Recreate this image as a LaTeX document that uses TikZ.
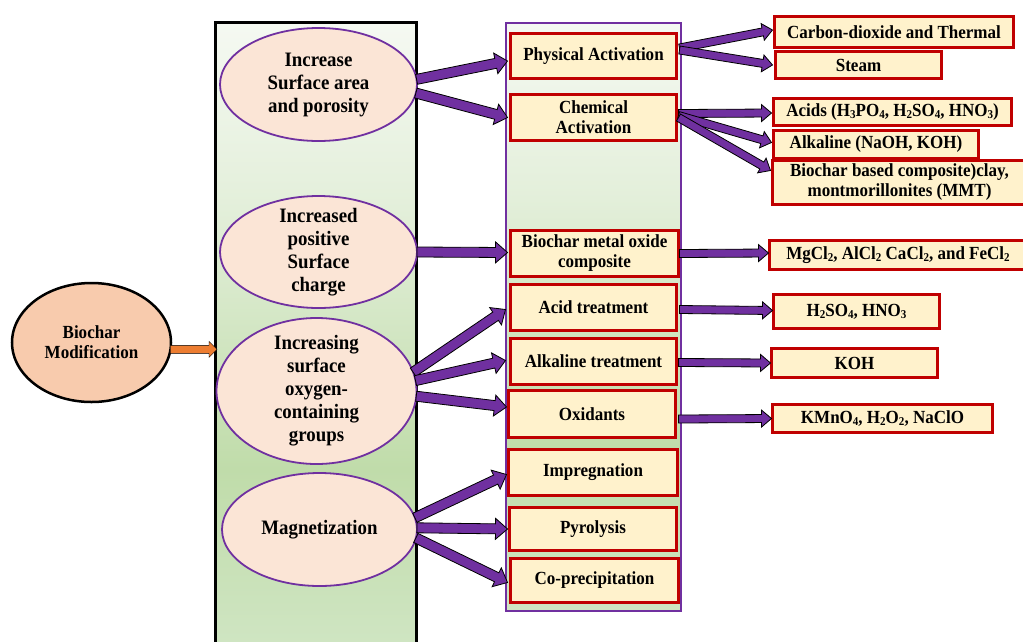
\documentclass[tikz,border=0pt]{standalone}
\usepackage{fontspec}
\setmainfont{Liberation Serif}[FakeStretch=0.92]
\usetikzlibrary{calc,shapes.geometric}

\definecolor{linepurple}{HTML}{7030A0}
\definecolor{boxred}{HTML}{C00000}
\definecolor{boxfill}{HTML}{FFF2CC}
\definecolor{ovalfill}{HTML}{FBE5D6}
\definecolor{rootfill}{HTML}{F8CBAD}
\definecolor{orangearrow}{HTML}{ED7D31}
\definecolor{gTop}{HTML}{F5F9F2}
\definecolor{gUp}{HTML}{E3EFDA}
\definecolor{gMid}{HTML}{C0DCAA}
\definecolor{gBot}{HTML}{CFE5C2}

% light-to-green vertical fade for the two panels
\pgfdeclareverticalshading{panelfade}{100bp}{color(0bp)=(gBot); color(25bp)=(gBot); color(39bp)=(gMid); color(60bp)=(gUp); color(75bp)=(gTop); color(100bp)=(gTop)}

% subscript digits in formulas
\newcommand\chsub[1]{\raisebox{-0.12em}{\fontsize{12}{12}\selectfont #1}}

% block arrow: half shaft, half head, head length, start, end, style
\newcommand\blockarrow[6]{%
  \path (#4) coordinate (ba-s) (#5) coordinate (ba-e);
  \draw[#6] ($(ba-s)!#1!90:(ba-e)$)
    -- ($(ba-e)!#3!(ba-s)!#1!90:(ba-e)$)
    -- ($(ba-e)!#3!(ba-s)!#2!90:(ba-e)$)
    -- (ba-e)
    -- ($(ba-e)!#3!(ba-s)!#2!-90:(ba-e)$)
    -- ($(ba-e)!#3!(ba-s)!#1!-90:(ba-e)$)
    -- ($(ba-s)!#1!-90:(ba-e)$) -- cycle;}
\newcommand\bigarrow[2]{\blockarrow{5pt}{10.5pt}{12pt}{#1}{#2}{fill=linepurple,draw=black,line width=0.8pt,line join=miter}}
\newcommand\smallarrow[2]{\blockarrow{4pt}{8.5pt}{10pt}{#1}{#2}{fill=linepurple,draw=black,line width=0.8pt,line join=miter}}

\tikzset{
  panel/.style={shading=panelfade, inner sep=0pt, outer sep=0pt},
  oval/.style={ellipse, draw=linepurple, line width=1.8pt, fill=ovalfill, inner sep=0pt, outer sep=0pt},
  ovaltext/.style={align=center, inner sep=0pt, font=\fontsize{20.5}{23}\selectfont\bfseries},
  rootoval/.style={ellipse, draw=black, line width=2.5pt, fill=rootfill, inner sep=0pt, outer sep=0pt,
    align=center, font=\fontsize{18.5}{20}\selectfont\bfseries},
  optbox/.style={rectangle, draw=boxred, line width=2.5pt, fill=boxfill, inner sep=1pt, outer sep=0pt,
    align=center, font=\fontsize{18.5}{20}\selectfont\bfseries},
}

\begin{document}
\begin{tikzpicture}[x=1pt,y=-1pt]
\useasboundingbox (0,0) rectangle (1023,641);
\fill[white] (0,0) rectangle (1023,641);

% panels
\node[panel, draw=black, line width=3pt, minimum width=201pt, minimum height=621pt] (col) at (316,332.5) {};
\node[panel, draw=linepurple, line width=2pt, minimum width=175pt, minimum height=588pt] (opts) at (593.5,317) {};

% root
\node[rootoval, minimum width=159pt, minimum height=119pt] (bm) at (91.5,342.5) {Biochar\\Modification};

% goals
\node[oval, minimum width=197pt, minimum height=113pt] (e1) at (318.5,84.5) {};
\node[ovaltext] (e1t) at (e1) {Increase\\Surface area\\and porosity};
\node[oval, minimum width=197pt, minimum height=112pt] (e2) at (318.5,252) {};
\node[ovaltext] (e2t) at (e2) {Increased\\positive\\Surface\\charge};
\node[oval, minimum width=200pt, minimum height=146pt] (e3) at (316.5,391) {};
\node[ovaltext] (e3t) at (e3) {Increasing\\surface\\oxygen-\\containing\\groups};
\node[oval, minimum width=195pt, minimum height=113pt] (e4) at (319.5,529.5) {};
\node[ovaltext] (e4t) at (e4) {Magnetization};

% methods
\node[optbox, minimum width=166pt, minimum height=45pt] (phys) at (593.5,56) {Physical Activation};
\node[optbox, minimum width=166pt, minimum height=46pt] (chem) at (593.5,117.5) {Chemical\\Activation};
\node[optbox, minimum width=168pt, minimum height=46pt] (metal) at (594.5,253.5) {Biochar metal oxide\\composite};
\node[optbox, minimum width=166pt, minimum height=46pt] (acid) at (593.5,307.5) {Acid treatment};
\node[optbox, minimum width=166pt, minimum height=46pt] (alkt) at (593.5,361.5) {Alkaline treatment};
\node[optbox, minimum width=167pt, minimum height=47pt] (oxid) at (592,414) {Oxidants};
\node[optbox, minimum width=169pt, minimum height=46pt] (impr) at (593,472.5) {Impregnation};
\node[optbox, minimum width=167pt, minimum height=43pt] (pyro) at (593,529) {Pyrolysis};
\node[optbox, minimum width=168pt, minimum height=44pt] (copr) at (594.5,580.5) {Co-precipitation};

% agents
\node[optbox, minimum width=239pt, minimum height=31pt] (co2) at (894,32) {Carbon-dioxide and Thermal};
\node[optbox, minimum width=166pt, minimum height=27pt] (steam) at (858.5,65) {Steam};
\node[optbox, minimum width=238pt, minimum height=27pt] (acids) at (892.5,112) {Acids (H\chsub{3}PO\chsub{4}, H\chsub{2}SO\chsub{4}, HNO\chsub{3})};
\node[optbox, minimum width=254pt, minimum height=44pt] (bbc) at (899.5,182.5) {Biochar based composite)clay,\\montmorillonites (MMT)};
\node[optbox, minimum width=205pt, minimum height=28pt] (alkl) at (876,144.5) {Alkaline (NaOH, KOH)};
\node[optbox, minimum width=257pt, minimum height=29pt] (mgcl) at (898,255) {MgCl\chsub{2}, AlCl\chsub{2} CaCl\chsub{2}, and FeCl\chsub{2}};
\node[optbox, minimum width=166pt, minimum height=34pt] (h2so4) at (856.5,311.5) {H\chsub{2}SO\chsub{4}, HNO\chsub{3}};
\node[optbox, minimum width=166pt, minimum height=29pt] (koh) at (854.5,363) {KOH};
\node[optbox, minimum width=220pt, minimum height=28pt] (kmno4) at (882.5,418.5) {KMnO\chsub{4}, H\chsub{2}O\chsub{2}, NaClO};

% root to goals
\blockarrow{4pt}{8pt}{8pt}{bm.-5}{$(bm.-5 -| col.west)+(1.5,0)$}{fill=orangearrow}

% goals to methods
\bigarrow{e1.3}{$(phys.west)+(-3,5)$}
\bigarrow{e1.-5}{$(chem.west)+(-3,0)$}
\bigarrow{e2.east}{$(metal.west)+(-3,-1)$}
\bigarrow{e3.11}{$(acid.west)+(-5,2)$}
\bigarrow{e3.6}{$(alkt.west)+(-5,-1)$}
\bigarrow{e3.-3}{$(oxid.west)+(-2,-7)$}
\bigarrow{e4.7}{$(impr.west)+(-2,2)$}
\bigarrow{e4.1}{$(pyro.west)+(-2,0)$}
\bigarrow{e4.-5}{$(copr.west)+(-3,2)$}

% methods to agents
\smallarrow{$(phys.east)+(3,-8)$}{$(co2.west)+(-2,-2)$}
\smallarrow{$(phys.east)+(3,-6)$}{$(steam.west)+(-3,0)$}
\smallarrow{$(chem.east)+(2,-4)$}{$(acids.west)+(-2,1)$}
\smallarrow{$(chem.east)+(2,-2)$}{$(alkl.west)+(-2,-2)$}
\smallarrow{$(chem.east)+(2,0)$}{$(bbc.west)+(-2,-12)$}
\smallarrow{$(metal.east)+(1,0)$}{$(mgcl.west)+(-1,-2)$}
\smallarrow{$(acid.east)+(3,2)$}{$(h2so4.west)+(-1,-1)$}
\smallarrow{$(alkt.east)+(2,1)$}{$(koh.west)+(-1,0)$}
\smallarrow{$(oxid.east)+(3,5)$}{$(kmno4.west)+(-1,0)$}
\end{tikzpicture}
\end{document}
